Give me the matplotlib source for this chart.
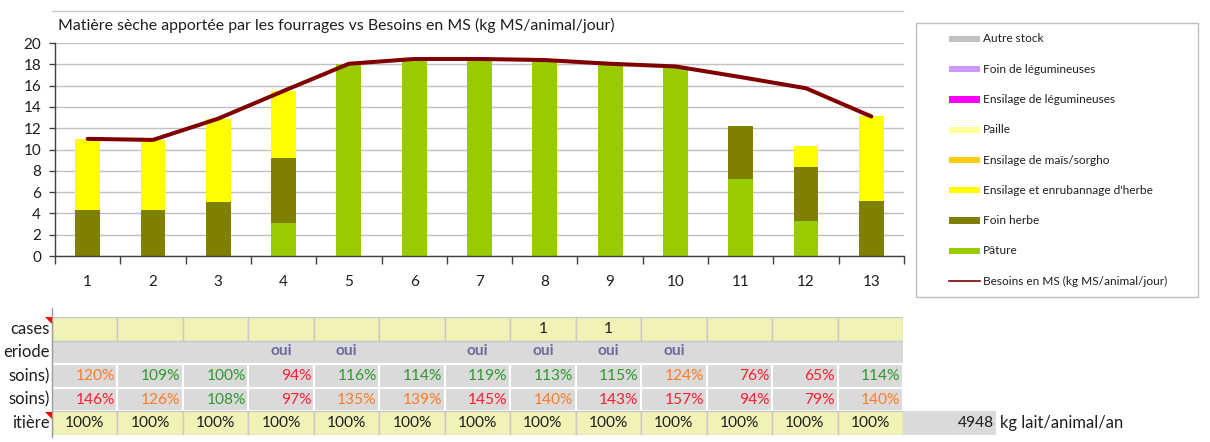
import matplotlib
matplotlib.use('Agg')
import matplotlib.pyplot as plt
from matplotlib.patches import Rectangle, Polygon
from matplotlib.lines import Line2D

plt.rcParams['font.family'] = ['Lato', 'DejaVu Sans']

# ---------------- data ----------------
categories = ['1', '2', '3', '4', '5', '6', '7', '8', '9', '10', '11', '12', '13']
paturage = [0, 0, 0, 3.1, 18.0, 18.4, 18.4, 18.3, 17.9, 17.7, 7.2, 3.3, 0]
foin_herbe = [4.3, 4.3, 5.1, 6.1, 0, 0, 0, 0, 0, 0, 5.0, 5.1, 5.2]
ensilage_herbe = [6.7, 6.6, 7.8, 6.3, 0, 0, 0, 0, 0, 0, 0, 1.9, 7.9]
ensilage_mais = [0, 0, 0, 0, 0, 0, 0, 0, 0, 0, 0, 0, 0]
paille = [0, 0, 0, 0, 0, 0, 0, 0, 0, 0, 0, 0, 0]
ensilage_leg = [0, 0, 0, 0, 0, 0, 0, 0, 0, 0, 0, 0, 0]
foin_leg = [0, 0, 0, 0, 0, 0, 0, 0, 0, 0, 0, 0, 0]
autre_stock = [0, 0, 0, 0, 0, 0, 0, 0, 0, 0, 0, 0, 0]
besoins = [11.0, 10.9, 12.9, 15.5, 18.05, 18.5, 18.5, 18.4, 18.05, 17.8, 16.8, 15.75, 13.1]

series = [  # bottom -> top
    ('Pâture', paturage, '#99CC00'),
    ('Foin herbe', foin_herbe, '#808000'),
    ("Ensilage et enrubannage d'herbe", ensilage_herbe, '#FFFF00'),
    ('Ensilage de maïs/sorgho', ensilage_mais, '#FFCC00'),
    ('Paille', paille, '#FFFF99'),
    ('Ensilage de légumineuses', ensilage_leg, '#FF00FF'),
    ('Foin de légumineuses', foin_leg, '#CC99FF'),
    ('Autre stock', autre_stock, '#C0C0C0'),
]
line_label = 'Besoins en MS (kg MS/animal/jour)'
line_color = '#800000'
title = 'Matière sèche apportée par les fourrages vs Besoins en MS (kg MS/animal/jour)'

row_labels = ['cases', 'eriode', 'soins)', 'soins)', 'itière']
cases_row = ['', '', '', '', '', '', '', '1', '1', '', '', '', '']
periode_row = ['', '', '', 'oui', 'oui', '', 'oui', 'oui', 'oui', 'oui', '', '', '']
pct_row1 = [120, 109, 100, 94, 116, 114, 119, 113, 115, 124, 76, 65, 114]
pct_row2 = [146, 126, 108, 97, 135, 139, 145, 140, 143, 157, 94, 79, 140]
lait_row = [100, 100, 100, 100, 100, 100, 100, 100, 100, 100, 100, 100, 100]
production = 4948
production_unit = 'kg lait/animal/an'

# ---------------- layout helpers ----------------
W, H = 1210, 442
fig = plt.figure(figsize=(W / 100, H / 100), dpi=100)


def fx(px):
    return px / W


def fy(py):
    return 1 - py / H


# ---------------- chart ----------------
L, R, T, B = 55, 904, 43, 256
ax = fig.add_axes([fx(L), fy(B), (R - L) / W, (B - T) / H])
x = list(range(1, len(categories) + 1))
bottom = [0.0] * len(categories)
for name, vals, col in series:
    ax.bar(x, vals, width=0.38, bottom=bottom, color=col, zorder=2)
    bottom = [b + v for b, v in zip(bottom, vals)]
ax.plot(x, besoins, color=line_color, lw=2.9, zorder=3, solid_capstyle='round')

ax.set_xlim(0.5, len(categories) + 0.5)
ax.set_ylim(0, 20)
ax.set_yticks(range(0, 21, 2))
ax.grid(axis='y', color='#C0C0C0', lw=1, zorder=0)
ax.set_axisbelow(True)
for s in ['top', 'right']:
    ax.spines[s].set_visible(False)
for s in ['left', 'bottom']:
    ax.spines[s].set_color('#404040')
    ax.spines[s].set_linewidth(1.0)
ax.set_xticks(x)
ax.set_xticklabels(categories)
ax.set_xticks([i + 0.5 for i in range(0, len(categories) + 1)], minor=True)
ax.tick_params(axis='x', which='major', length=0, pad=14, labelsize=11, labelcolor='#1F1F1F')
ax.tick_params(axis='x', which='minor', length=6, width=1, color='#404040', direction='out')
ax.tick_params(axis='y', length=4, width=1, color='#404040', pad=6, labelsize=11, labelcolor='#1F1F1F')

fig.text(fx(58), fy(25), title, fontsize=11.45, color='#1F1F1F', va='center', ha='left')
# thin border line at the top of the chart area
fig.add_artist(Line2D([fx(52), fx(903)], [fy(11), fy(11)], color='#C8C8C8', lw=1))

# ---------------- legend ----------------
fig.add_artist(Rectangle((fx(916), fy(297)), (1198 - 916) / W, (297 - 23) / H,
                         transform=fig.transFigure, facecolor='white', edgecolor='#BFBFBF', lw=1))
leg_items = list(reversed(series))
y0, dy = 39, 30.25
for i, (name, vals, col) in enumerate(leg_items):
    yy = y0 + i * dy
    fig.add_artist(Rectangle((fx(949), fy(yy + 3.2)), 31 / W, 6.4 / H,
                             transform=fig.transFigure, facecolor=col, edgecolor='none'))
    fig.text(fx(983), fy(yy), name, fontsize=8.6, va='center', ha='left', color='#1F1F1F')
yy = y0 + len(leg_items) * dy
fig.add_artist(Line2D([fx(949), fx(980)], [fy(yy), fy(yy)], color=line_color, lw=1.2))
fig.text(fx(983), fy(yy), line_label, fontsize=8.6, va='center', ha='left', color='#1F1F1F')

# ---------------- table ----------------
TL, TR, TT, TB = 52, 903, 317, 435
n = len(categories)
tax = fig.add_axes([fx(TL), fy(TB), (TR - TL) / W, (TB - TT) / H])
tax.set_xlim(0, n)
tax.set_ylim(5, 0)
tax.axis('off')

yellow, grey = '#F0F2B6', '#DADADA'


def pct_color(v):
    if v < 100 or v > 140:
        return '#FF1F2F'
    if v >= 120:
        return '#FF7C24'
    return '#2E9A2E'


# row 1 (grey band), rows 2-3 grey cells
tax.add_patch(Rectangle((0, 1), n, 1, facecolor=grey, edgecolor='none'))
for r in (2, 3):
    for c in range(n):
        tax.add_patch(Rectangle((c, r), 1, 1, facecolor=grey, edgecolor='white', lw=1.5))
for r in (0, 4):
    for c in range(n):
        tax.add_patch(Rectangle((c, r), 1, 1, facecolor=yellow, edgecolor='#C8C8C8', lw=1))

fs = 11.2
for c in range(n):
    if cases_row[c]:
        tax.text(c + 0.5, 0.5, cases_row[c], ha='center', va='center', fontsize=fs, color='#1F1F1F')
    if periode_row[c]:
        tax.text(c + 0.5, 1.45, periode_row[c], ha='center', va='center', fontsize=fs,
                 color='#6A6A9C', fontweight='bold')
    tax.text(c + 0.96, 2.5, f'{pct_row1[c]}%', ha='right', va='center', fontsize=fs, color=pct_color(pct_row1[c]))
    tax.text(c + 0.96, 3.5, f'{pct_row2[c]}%', ha='right', va='center', fontsize=fs, color=pct_color(pct_row2[c]))
    tax.text(c + 0.5, 4.5, f'{lait_row[c]}%', ha='center', va='center', fontsize=fs, color='#1F1F1F')

cw = (TR - TL) / n
tax.add_patch(Rectangle((n, 4), (996 - TR) / cw, 1, facecolor=grey, edgecolor='none', clip_on=False))
tax.text(n + (994 - TR) / cw, 4.5, f'{production}', ha='right', va='center', fontsize=fs,
         color='#1F1F1F', clip_on=False)
tax.text(n + (1000 - TR) / cw, 4.5, production_unit, ha='left', va='center', fontsize=12,
         color='#1F1F1F', clip_on=False)

for r, lab in enumerate(row_labels):
    tax.text(-0.03, r + 0.5, lab, ha='right', va='center', fontsize=fs + 0.8, color='#1F1F1F', clip_on=False)

# comment markers and left border
for py in (317, 412):
    fig.add_artist(Polygon([(fx(45), fy(py)), (fx(52), fy(py)), (fx(52), fy(py + 7))],
                           closed=True, transform=fig.transFigure, facecolor='#FF0000', edgecolor='none'))
fig.add_artist(Line2D([fx(52), fx(52)], [fy(308), fy(437)], color='#9A9A9A', lw=1))

fig.savefig('out.png', dpi=100)
